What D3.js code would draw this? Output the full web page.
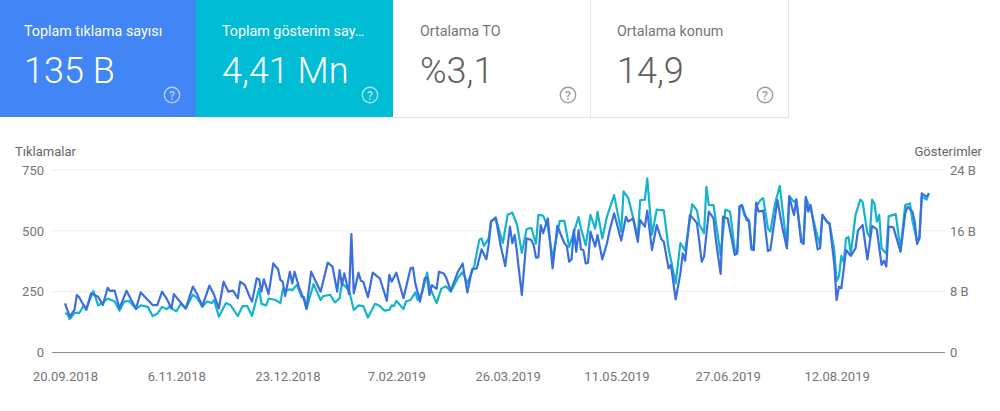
<!DOCTYPE html>
<html>
<head>
<meta charset="utf-8">
<script src="https://cdnjs.cloudflare.com/ajax/libs/d3/7.8.5/d3.min.js"></script>
<style>
  html, body { margin: 0; padding: 0; background: #fff; }
  svg { display: block; font-family: Roboto, sans-serif; }
  .axis text { font-family: Roboto, sans-serif; font-size: 13px; fill: #757575; }
  .axis path, .axis line { display: none; }
  .axis-title { font-size: 13px; fill: #666; }
</style>
</head>
<body>
<div id="chart"></div>
<script>
// Scorecards
const cardLabels = ["Toplam tıklama sayısı", "Toplam gösterim say…", "Ortalama TO", "Ortalama konum"];
const cardValues = ["135 B", "4,41 Mn", "%3,1", "14,9"];

// Axis ticks
const clickTicks = [0, 250, 500, 750];
const impressionTicks = [0, 8, 16, 24];
const dateTicks = ["2018-09-20", "2018-11-06", "2018-12-23", "2019-02-07", "2019-03-26", "2019-05-11", "2019-06-27", "2019-08-12"];

// [days since 20.09.2018, clicks]
const clicks = [
  [0,202],[2,147],[4,175],[5,236],[6,227],[8,191],[9,175],[11,243],[14,229],[16,195],
  [18,266],[19,253],[21,254],[23,181],[26,254],[28,216],[30,181],[32,247],[35,216],[37,195],
  [39,195],[41,250],[43,220],[45,181],[46,240],[48,216],[51,181],[54,271],[56,236],[58,191],
  [61,275],[63,236],[65,181],[67,291],[69,250],[71,254],[73,223],[74,291],[76,277],[78,229],
  [79,209],[81,305],[82,301],[83,250],[84,301],[86,240],[88,366],[90,342],[91,298],[92,291],
  [93,232],[95,332],[96,284],[97,332],[99,264],[101,216],[102,181],[104,332],[106,291],[108,250],
  [111,369],[113,353],[115,250],[116,339],[117,277],[118,325],[120,240],[121,487],[122,243],[124,328],
  [125,295],[126,291],[128,227],[130,328],[132,312],[133,305],[136,212],[137,319],[138,291],[140,328],
  [143,223],[146,346],[147,349],[148,284],[150,209],[152,305],[153,309],[154,236],[155,277],[157,261],
  [158,332],[160,325],[161,309],[163,254],[166,332],[168,366],[170,246],[172,342],[174,346],[176,424],
  [178,383],[179,442],[180,538],[182,555],[184,442],[186,355],[188,517],[189,449],[190,483],[191,407],
  [193,236],[195,469],[197,462],[198,442],[199,390],[200,391],[201,524],[202,490],[204,551],[206,346],
  [208,520],[211,449],[212,438],[213,373],[214,383],[215,503],[216,414],[217,503],[218,424],[219,421],
  [220,366],[221,369],[222,497],[224,435],[225,483],[227,383],[229,449],[230,497],[232,572],[235,460],
  [237,558],[238,538],[240,551],[242,455],[243,544],[245,517],[246,583],[248,421],[250,524],[252,465],
  [253,455],[255,346],[256,360],[258,218],[260,325],[261,407],[262,377],[264,565],[266,544],[267,531],
  [268,455],[269,373],[270,394],[272,579],[274,551],[275,462],[277,323],[278,558],[280,551],[283,401],
  [284,407],[285,599],[286,606],[288,544],[289,538],[290,424],[291,421],[292,616],[293,579],[295,583],
  [297,417],[298,421],[301,627],[303,517],[305,428],[306,640],[308,565],[309,629],[311,455],[312,446],
  [313,640],[314,579],[315,606],[318,424],[319,428],[320,565],[322,538],[323,531],[325,366],[326,216],
  [327,270],[328,264],[330,421],[332,397],[334,428],[335,501],[337,524],[339,383],[341,520],[343,506],
  [345,360],[346,377],[347,353],[348,517],[350,514],[353,414],[355,572],[356,599],[358,579],[359,538],
  [360,446],[361,469],[362,654],[364,640],[365,651]
];

// [days since 20.09.2018, impressions in B]
const impressions = [
  [0,5.1],[1,5.1],[2,4.4],[4,5.2],[6,5.2],[8,6.2],[9,5.8],[12,8.1],[14,6.2],[16,6.5],
  [18,7.1],[21,6.7],[23,5.5],[25,6.7],[27,6.8],[30,5.7],[32,6.2],[35,6.0],[37,4.8],[39,5.1],
  [41,6.0],[43,5.7],[44,6.0],[47,5.4],[49,6.4],[51,5.8],[54,7.6],[56,7.1],[58,6.0],[60,6.7],
  [62,6.5],[63,6.9],[65,4.7],[68,6.5],[70,6.2],[73,4.8],[75,6.1],[77,6.1],[79,4.8],[82,8.4],
  [83,6.4],[85,6.2],[86,7.1],[89,6.9],[91,6.5],[92,8.3],[94,8.2],[95,8.3],[96,8.2],[98,8.9],
  [100,7.3],[101,7.3],[102,5.7],[105,9.0],[106,8.3],[108,6.9],[109,7.4],[112,7.6],[114,6.6],[116,7.1],
  [117,9.1],[120,8.2],[122,5.6],[124,6.2],[126,6.1],[128,4.6],[131,6.4],[133,6.1],[135,5.5],[137,5.6],
  [138,6.2],[139,6.1],[140,6.8],[143,5.7],[144,6.7],[146,6.9],[148,7.9],[149,6.9],[151,8.0],[153,10.5],
  [154,8.7],[157,6.5],[159,8.4],[161,8.7],[163,8.0],[166,9.8],[168,10.6],[170,9.1],[173,11.5],[175,14.8],
  [176,15.0],[177,14.0],[179,15.0],[180,17.3],[182,17.6],[185,14.4],[187,18.1],[189,18.4],[191,16.8],[193,13.1],
  [195,16.2],[197,16.4],[199,14.3],[200,18.1],[202,18.0],[204,16.5],[206,12.4],[209,17.3],[211,17.3],[213,13.9],
  [217,17.8],[218,16.3],[220,14.1],[222,18.1],[224,16.3],[225,18.5],[227,15.0],[229,17.9],[232,20.7],[235,15.9],
  [236,21.2],[238,20.3],[242,15.2],[243,20.0],[245,20.1],[246,22.9],[248,15.5],[250,18.8],[253,18.7],[255,13.7],
  [258,9.1],[260,14.4],[262,13.4],[265,19.5],[267,18.7],[268,16.8],[270,15.7],[271,21.8],[272,19.4],[274,19.4],
  [277,12.8],[279,18.8],[281,18.5],[283,13.5],[284,13.1],[285,19.2],[286,19.4],[287,18.1],[289,17.4],[290,14.1],
  [291,13.5],[292,19.2],[294,20.1],[295,20.3],[297,16.3],[298,15.9],[300,19.6],[302,21.9],[304,16.5],[305,13.9],
  [306,20.6],[308,19.8],[309,20.1],[311,15.0],[312,14.4],[313,20.3],[315,18.9],[318,15.2],[319,14.1],[320,18.1],
  [322,17.1],[323,17.0],[325,13.5],[326,9.4],[327,10.0],[328,12.7],[329,11.9],[330,15.0],[331,15.2],[332,13.0],
  [334,18.1],[336,20.1],[337,19.8],[339,15.7],[340,15.2],[341,20.1],[342,19.6],[343,17.2],[344,18.1],[345,13.7],
  [347,13.0],[348,17.9],[350,18.1],[351,18.2],[353,13.5],[355,19.4],[357,19.6],[358,17.4],[360,14.6],[361,15.2],
  [362,20.5],[364,20.1],[365,21.0]
];

const width = 1000;
const height = 411;
const margin = { top: 170, right: 55, bottom: 58.5, left: 52 };
const innerHeight = height - margin.top - margin.bottom;

const svg = d3.select("#chart").append("svg")
  .attr("width", width)
  .attr("height", height);

// Draw the scorecards
const cardHeight = 117;
const cardX = [0, 196, 393, 590];
const cardWidth = [196, 197, 197, 198];
const textX = [24, 222, 420, 617];
const helpX = [172, 370, 568, 765];
const cardFill = ["#4285f4", "#00bcd4", "#fff", "#fff"];
const labelColor = ["#fff", "#fff", "#757575", "#757575"];
const valueColor = ["#fff", "#fff", "#616161", "#616161"];
const helpColor = ["#b3cefb", "#a6e4ee", "#9e9e9e", "#9e9e9e"];

const card = svg.selectAll(".card")
  .data(cardLabels)
  .enter().append("g")
  .attr("class", "card");

card.append("rect")
  .attr("x", (d, i) => cardX[i])
  .attr("width", (d, i) => cardWidth[i])
  .attr("height", cardHeight)
  .attr("fill", (d, i) => cardFill[i]);

card.append("text")
  .attr("x", (d, i) => textX[i])
  .attr("y", 36)
  .attr("font-size", 14.3)
  .attr("fill", (d, i) => labelColor[i])
  .text(d => d);

card.append("text")
  .attr("x", (d, i) => textX[i])
  .attr("y", 83)
  .attr("font-size", 36)
  .attr("font-weight", 300)
  .attr("fill", (d, i) => valueColor[i])
  .text((d, i) => cardValues[i]);

card.append("circle")
  .attr("cx", (d, i) => helpX[i])
  .attr("cy", 95)
  .attr("r", 7.7)
  .attr("fill", "none")
  .attr("stroke-width", 1.4)
  .attr("stroke", (d, i) => helpColor[i]);

card.append("text")
  .attr("x", (d, i) => helpX[i])
  .attr("y", 99.5)
  .attr("text-anchor", "middle")
  .attr("font-size", 12)
  .attr("font-weight", 500)
  .attr("fill", (d, i) => helpColor[i])
  .text("?");

// Card borders
svg.append("path")
  .attr("d", "M393,117.5H788.5V0M590.5,0V117")
  .attr("fill", "none")
  .attr("stroke", "#e3e3e3");

// Set up the scales
const startDate = new Date(Date.UTC(2018, 8, 20));
const dayDate = d => new Date(+startDate + d * 864e5);

const x = d3.scaleUtc()
  .domain([dayDate(-5.5), dayDate(371.8)])
  .range([margin.left, width - margin.right]);

const yLeft = d3.scaleLinear()
  .domain([0, 750])
  .range([margin.top + innerHeight, margin.top]);

const yRight = d3.scaleLinear()
  .domain([0, 24])
  .range([margin.top + innerHeight, margin.top]);

// Horizontal gridlines
svg.selectAll(".grid")
  .data(clickTicks)
  .enter().append("line")
  .attr("class", "grid")
  .attr("x1", margin.left)
  .attr("x2", width - margin.right)
  .attr("y1", d => yLeft(d))
  .attr("y2", d => yLeft(d))
  .attr("stroke", d => d == 0 ? "#8c8c8c" : "#eeeeee")
  .attr("stroke-width", d => d == 0 ? 1.2 : 1);

// Axes
svg.append("g")
  .attr("class", "axis")
  .attr("transform", `translate(${margin.left + 1},0)`)
  .call(d3.axisLeft(yLeft).tickValues(clickTicks).tickFormat(d3.format("d")));

svg.append("g")
  .attr("class", "axis")
  .attr("transform", `translate(${width - margin.right - 4},0)`)
  .call(d3.axisRight(yRight).tickValues(impressionTicks).tickFormat(d => d == 0 ? "0" : d + " B"));

svg.append("g")
  .attr("class", "axis")
  .attr("transform", `translate(0,${margin.top + innerHeight + 10})`)
  .call(d3.axisBottom(x)
    .tickValues(dateTicks.map(d => new Date(d + "T00:00:00Z")))
    .tickFormat(d3.utcFormat("%-d.%m.%Y")));

// Axis titles
svg.append("text")
  .attr("class", "axis-title")
  .attr("x", 15)
  .attr("y", 155.5)
  .text("Tıklamalar");

svg.append("text")
  .attr("class", "axis-title")
  .attr("x", 982)
  .attr("y", 155.5)
  .attr("text-anchor", "end")
  .text("Gösterimler");

// Lines, impressions under clicks
const impressionLine = d3.line()
  .x(d => x(dayDate(d[0])))
  .y(d => yRight(d[1]));

const clickLine = d3.line()
  .x(d => x(dayDate(d[0])))
  .y(d => yLeft(d[1]));

svg.append("path")
  .datum(impressions)
  .attr("fill", "none")
  .attr("stroke", "#12b5cb")
  .attr("stroke-width", 2.2)
  .attr("stroke-linejoin", "round")
  .attr("d", impressionLine);

svg.append("path")
  .datum(clicks)
  .attr("fill", "none")
  .attr("stroke", "#3b6fe0")
  .attr("stroke-width", 2.2)
  .attr("stroke-linejoin", "round")
  .attr("d", clickLine);
</script>
</body>
</html>
